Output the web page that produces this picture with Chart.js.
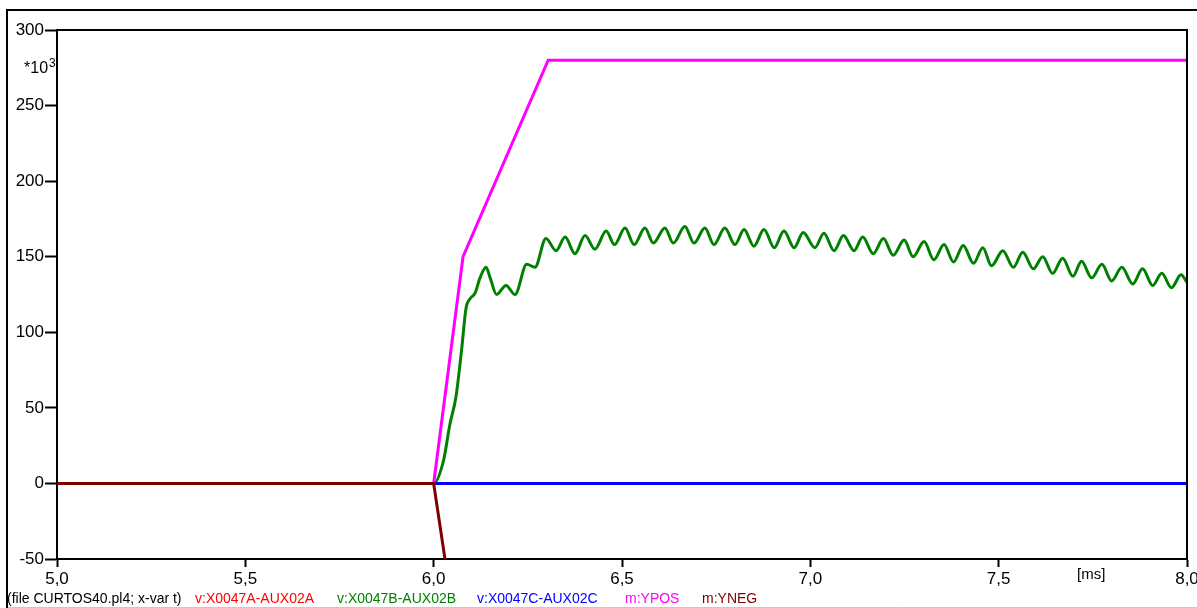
<!DOCTYPE html>
<html>
<head>
<meta charset="utf-8">
<title>CURTOS40.pl4</title>
<script src="https://cdn.jsdelivr.net/npm/chart.js@4"></script>
<style>
  html, body { margin: 0; padding: 0; background: #fff; }
  canvas { display: block; }
</style>
</head>
<body>
<canvas id="plot" width="1197" height="608"></canvas>
<script>
// time axis in ms, values in *10^3
const xTicks = [5.0, 5.5, 6.0, 6.5, 7.0, 7.5, 8.0];
const yTicks = [-50, 0, 50, 100, 150, 200, 250, 300];

const aT = [5.0, 8.0];
const aV = [0, 0];

const cT = [5.0, 8.0];
const cV = [0, 0];

const yposT = [5.0, 6.0, 6.078, 6.304, 8.0];
const yposV = [0, 0, 150, 280, 280];

const ynegT = [5.0, 6.0, 6.03];
const ynegV = [0, 0, -50];

const bT = [
  5.0, 6.0, 6.026, 6.043, 6.059, 6.074, 6.086, 6.096, 6.110, 6.123, 6.139, 6.150,
  6.167, 6.192, 6.216, 6.247, 6.269, 6.298, 6.325, 6.349, 6.375, 6.402, 6.428, 6.458,
  6.480, 6.508, 6.532, 6.561, 6.583, 6.614, 6.636, 6.667, 6.691, 6.720, 6.744, 6.773,
  6.800, 6.824, 6.850, 6.877, 6.904, 6.930, 6.957, 6.981, 7.012, 7.036, 7.063, 7.088,
  7.116, 7.139, 7.167, 7.194, 7.220, 7.249, 7.273, 7.302, 7.328, 7.355, 7.380, 7.406,
  7.433, 7.458, 7.481, 7.511, 7.539, 7.564, 7.592, 7.617, 7.643, 7.670, 7.697, 7.720,
  7.747, 7.774, 7.800, 7.827, 7.856, 7.882, 7.909, 7.933, 7.959, 7.984, 8.0
];
const bV = [
  0, 0, 15, 39, 57, 88, 116, 122, 126, 136, 143, 136,
  125, 131, 125, 145, 143, 162, 154, 163, 152, 164, 155, 167,
  158, 169, 158, 169, 159, 169, 159, 170, 159, 169, 158, 169,
  158, 168, 157, 168, 156, 167, 156, 166, 156, 165.5, 154, 164,
  154, 163, 152, 162, 151, 161, 150, 160, 148, 158, 146.5, 157.5,
  145.6, 156, 144, 154, 143, 153, 142, 150, 139, 149, 137, 147,
  136, 145, 134, 143, 132, 142, 131, 139, 129.5, 138, 133
];

const pts = (ts, vs) => ts.map((t, i) => ({ x: t, y: vs[i] }));
const fmt = (v) => Number(v).toFixed(1).replace('.', ',');

const framePlugin = {
  id: 'frame',
  afterDraw(chart) {
    const ctx = chart.ctx;
    const a = chart.chartArea;
    ctx.save();
    // outer frame
    ctx.strokeStyle = '#000';
    ctx.lineWidth = 2;
    ctx.beginPath();
    ctx.moveTo(7, 608);
    ctx.lineTo(7, 10);
    ctx.lineTo(1197, 10);
    ctx.stroke();
    ctx.strokeStyle = '#c8c8c8';
    ctx.lineWidth = 1;
    ctx.beginPath();
    ctx.moveTo(8, 607.5);
    ctx.lineTo(1197, 607.5);
    ctx.stroke();
    // top and right edges of the plot box
    ctx.strokeStyle = '#000';
    ctx.lineWidth = 2;
    ctx.beginPath();
    ctx.moveTo(a.left, a.top);
    ctx.lineTo(a.right, a.top);
    ctx.lineTo(a.right, a.bottom);
    ctx.stroke();

    ctx.fillStyle = '#000';
    ctx.textBaseline = 'alphabetic';
    ctx.font = '16px "Liberation Sans", Arial, sans-serif';
    ctx.textAlign = 'left';
    ctx.fillText('*10', 24, 73);
    ctx.font = '12px "Liberation Sans", Arial, sans-serif';
    ctx.fillText('3', 49, 67);
    ctx.font = '15px "Liberation Sans", Arial, sans-serif';
    ctx.fillText('[ms]', 1077, 579);

    const legend = [
      ['(file CURTOS40.pl4; x-var t)', '#000000', 7],
      ['v:X0047A-AUX02A', '#ff0000', 195],
      ['v:X0047B-AUX02B', '#008000', 337],
      ['v:X0047C-AUX02C', '#0000ff', 477],
      ['m:YPOS', '#ff00ff', 625],
      ['m:YNEG', '#800000', 702]
    ];
    ctx.font = '14px "Liberation Sans", Arial, sans-serif';
    legend.forEach(([txt, col, x]) => {
      ctx.fillStyle = col;
      ctx.fillText(txt, x, 603);
    });
    ctx.restore();
  }
};

const line = (label, data, color, order, extra) => Object.assign({
  label,
  data,
  borderColor: color,
  backgroundColor: color,
  borderWidth: 3,
  pointRadius: 0,
  fill: false,
  tension: 0,
  order
}, extra || {});

new Chart(document.getElementById('plot'), {
  type: 'line',
  data: {
    datasets: [
      line('v:X0047A-AUX02A', pts(aT, aV), '#ff0000', 5),
      line('v:X0047B-AUX02B', pts(bT, bV), '#008000', 4, { cubicInterpolationMode: 'monotone' }),
      line('v:X0047C-AUX02C', pts(cT, cV), '#0000ff', 3),
      line('m:YPOS', pts(yposT, yposV), '#ff00ff', 2),
      line('m:YNEG', pts(ynegT, ynegV), '#800000', 1)
    ]
  },
  options: {
    responsive: false,
    animation: false,
    events: [],
    layout: { padding: { left: 0, top: 30, right: 10, bottom: 0 } },
    plugins: { legend: { display: false }, tooltip: { enabled: false } },
    scales: {
      x: {
        type: 'linear',
        min: 5,
        max: 8,
        afterBuildTicks: (s) => { s.ticks = xTicks.map((v) => ({ value: v })); },
        afterFit: (s) => { s.height = 49; s.paddingLeft = 0; s.paddingRight = 0; },
        ticks: {
          callback: (v) => fmt(v),
          color: '#000',
          font: { family: '"Liberation Sans", Arial, sans-serif', size: 17 },
          padding: 2,
          maxRotation: 0,
          autoSkip: false
        },
        grid: { drawOnChartArea: false, drawTicks: true, tickLength: 8, tickColor: '#000', tickWidth: 2 },
        border: { display: true, color: '#000', width: 2 }
      },
      y: {
        type: 'linear',
        min: -50,
        max: 300,
        afterBuildTicks: (s) => { s.ticks = yTicks.map((v) => ({ value: v })); },
        afterFit: (s) => { s.width = 57; s.paddingTop = 0; s.paddingBottom = 0; },
        ticks: {
          color: '#000',
          font: { family: '"Liberation Sans", Arial, sans-serif', size: 17 },
          padding: 1,
          autoSkip: false
        },
        grid: { drawOnChartArea: false, drawTicks: true, tickLength: 12, tickColor: '#000', tickWidth: 2 },
        border: { display: true, color: '#000', width: 2 }
      }
    }
  },
  plugins: [framePlugin]
});
</script>
</body>
</html>
